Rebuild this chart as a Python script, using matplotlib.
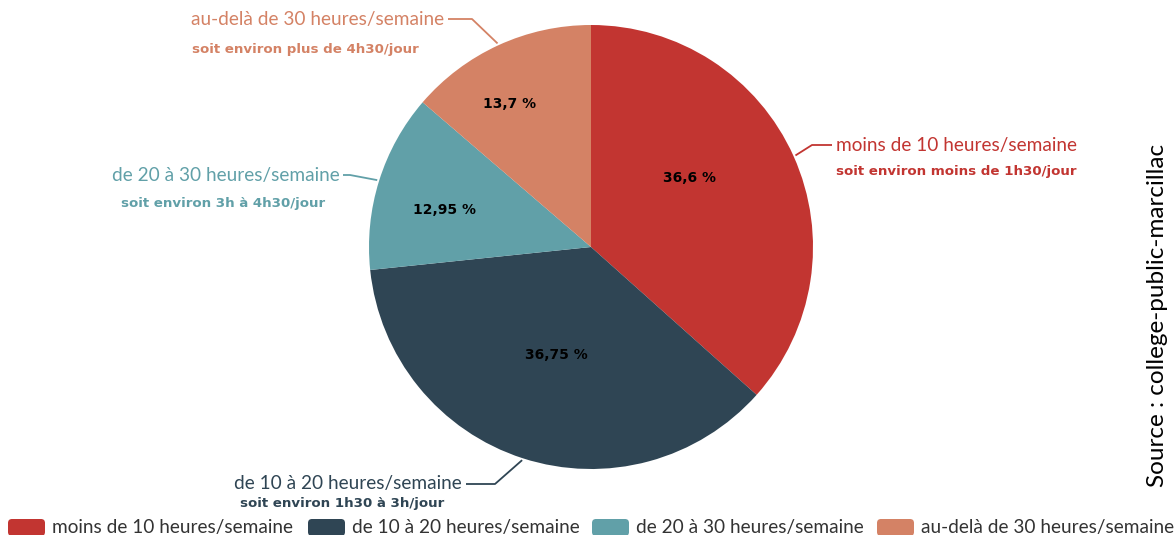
import numpy as np
import matplotlib.pyplot as plt
from matplotlib.patches import FancyBboxPatch

# data
categories = ["moins de 10 heures/semaine", "de 10 à 20 heures/semaine",
              "de 20 à 30 heures/semaine", "au-delà de 30 heures/semaine"]
subtitles = ["soit environ moins de 1h30/jour", "soit environ 1h30 à 3h/jour",
             "soit environ 3h à 4h30/jour", "soit environ plus de 4h30/jour"]
values = [36.6, 36.75, 12.95, 13.7]
pct_labels = ["36,6 %", "36,75 %", "12,95 %", "13,7 %"]
colors = ["#c23531", "#2f4554", "#61a0a8", "#d48265"]
source = "Source : college-public-marcillac"

W, H = 1175, 535
CX, CY, R = 591, 247, 222

fig = plt.figure(figsize=(W / 100, H / 100), dpi=100)
ax = fig.add_axes([0, 0, 1, 1])

# y axis inverted (pixel coords) -> counterclock in data = clockwise on screen
wedges, _ = ax.pie(values, colors=colors, startangle=-90, counterclock=True,
                   center=(CX, CY), radius=R, frame=False,
                   wedgeprops=dict(linewidth=0))
ax.set_xlim(0, W)
ax.set_ylim(H, 0)
ax.set_aspect("equal")
ax.axis("off")

main_font = ["Lato", "DejaVu Sans"]
sub_font = ["DejaVu Sans"]

# inside percentage labels (radius fraction, angle shift in degrees)
inner = [(0.54, -11), (0.51, 0), (0.68, -3), (0.74, -5)]
# outside labels: elbow point, text end point, alignment, subtitle position
outer = [
    dict(elbow=(812, 145), end=(832, 145), ha="left", tx=836, sx=956, sha="center", sy=172),
    dict(elbow=(495, 484), end=(466, 484), ha="right", tx=462, sx=240, sha="left", sy=503),
    dict(elbow=(350, 175), end=(343, 175), ha="right", tx=340, sx=223, sha="center", sy=203),
    dict(elbow=(472, 19), end=(448, 19), ha="right", tx=444, sx=192, sha="left", sy=50),
]

cum = np.cumsum([0] + values)
total = sum(values)
for i, w in enumerate(wedges):
    mid = (cum[i] + values[i] / 2) / total * 360  # clockwise from top
    frac, shift = inner[i]
    a = np.radians(mid + shift)
    ax.text(CX + R * frac * np.sin(a), CY - R * frac * np.cos(a), pct_labels[i],
            ha="center", va="center", fontsize=10, fontweight="bold",
            color="black", family=sub_font)
    # leader line
    am = np.radians(mid)
    px, py = CX + (R + 2) * np.sin(am), CY - (R + 2) * np.cos(am)
    o = outer[i]
    ax.plot([px, o["elbow"][0], o["end"][0]], [py, o["elbow"][1], o["end"][1]],
            color=colors[i], lw=1.3, solid_capstyle="butt")
    ax.text(o["tx"], o["end"][1], categories[i], ha=o["ha"], va="center",
            fontsize=13.7, color=colors[i], family=main_font)
    ax.text(o["sx"], o["sy"], subtitles[i], ha=o["sha"], va="center",
            fontsize=9.6, fontweight="bold", color=colors[i], family=sub_font)

# legend
lx = [8, 308, 592, 877]
for i, name in enumerate(categories):
    box = FancyBboxPatch((lx[i], 519), 37, 17,
                         boxstyle="round,pad=0,rounding_size=4",
                         fc=colors[i], ec="none")
    ax.add_patch(box)
    ax.text(lx[i] + 44, 527, name, ha="left", va="center", fontsize=13.7,
            color="#333333", family=main_font)

ax.text(1158, 315, source, rotation=90, ha="center", va="center",
        fontsize=17.5, color="black", family=main_font)

fig.savefig("out.png", dpi=100)
